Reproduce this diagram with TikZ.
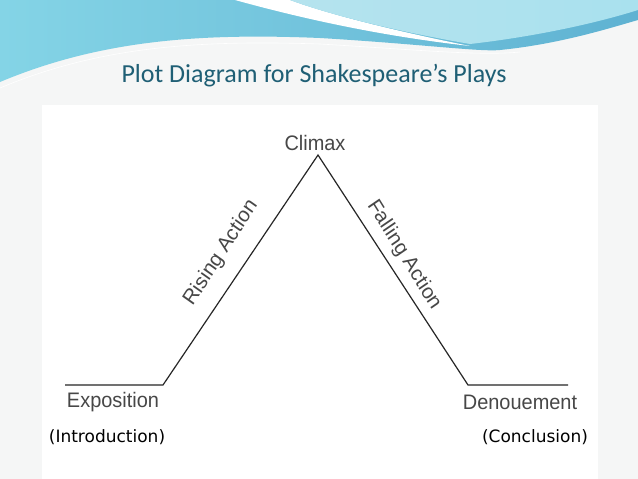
\documentclass[tikz,border=0pt]{standalone}
\usepackage{fontspec}
\setmainfont{Carlito}
\newfontfamily\lblfont{Liberation Sans}
\newfontfamily\subfont{DejaVu Sans}
\definecolor{titleblue}{HTML}{1F5F75}
\definecolor{bandblue}{HTML}{5FB2D2}
\definecolor{bandcyan}{HTML}{84D4E6}
\definecolor{lightcyan}{HTML}{B5E3EE}
\definecolor{bg}{HTML}{F5F6F6}
\begin{document}
\begin{tikzpicture}[x=1pt,y=-1pt,
  lbl/.style={font=\lblfont\fontsize{21}{21}\selectfont, text=black!72, inner sep=1pt, xscale=0.95},
  sub/.style={font=\subfont\fontsize{17}{17}\selectfont, text=black},
  plotline/.style={draw=black!85, line width=1.2pt}]
\useasboundingbox (0,0) rectangle (638,479);
\fill[bg] (0,0) rectangle (638,479);
\fill[white] (42,105) rectangle (598,479);
% banner
\shade[left color=bandcyan, right color=bandblue]
  (0,0) -- (638,0) -- (638,20) .. controls (610,28) and (560,44) .. (500,50)
  .. controls (480,52) and (420,44) .. (320,38)
  .. controls (200,33) and (100,40) .. (0,82) -- cycle;
\fill[white] (235,0) .. controls (300,18) and (380,36) .. (470,46)
  .. controls (400,32) and (330,15) .. (290,0) -- cycle;
\shade[left color=lightcyan, right color=bandcyan!70]
  (290,0) .. controls (330,15) and (400,32) .. (470,44)
  .. controls (540,36) and (600,22) .. (638,10) -- (638,0) -- cycle;
\draw[white, line width=0.6pt] (0,88) .. controls (100,46) and (200,40) .. (320,44)
  .. controls (420,50) and (480,56) .. (520,52);
\node[font=\fontsize{26}{26}\selectfont, text=titleblue] (title) at (314,76) {Plot Diagram for Shakespeare’s Plays};
% plot
\coordinate (a) at (65,385);
\coordinate (b) at (163,385);
\coordinate (c) at (318,155);
\coordinate (d) at (468,385);
\coordinate (e) at (568,385);
\draw[plotline] (a) -- (b) -- (c) -- (d) -- (e);
\node[lbl] (climax) at (315,143) {Climax};
\node[lbl] (expo) at (113,402) {Exposition};
\node[lbl] (denou) at (520,402) {Denouement};
\node[lbl, rotate=56] (rising) at (221,253) {Rising Action};
\node[lbl, rotate=-57] (falling) at (404,255) {Falling Action};
\node[sub] (intro) at (107,437) {(Introduction)};
\node[sub] (concl) at (535,437) {(Conclusion)};
\end{tikzpicture}
\end{document}
